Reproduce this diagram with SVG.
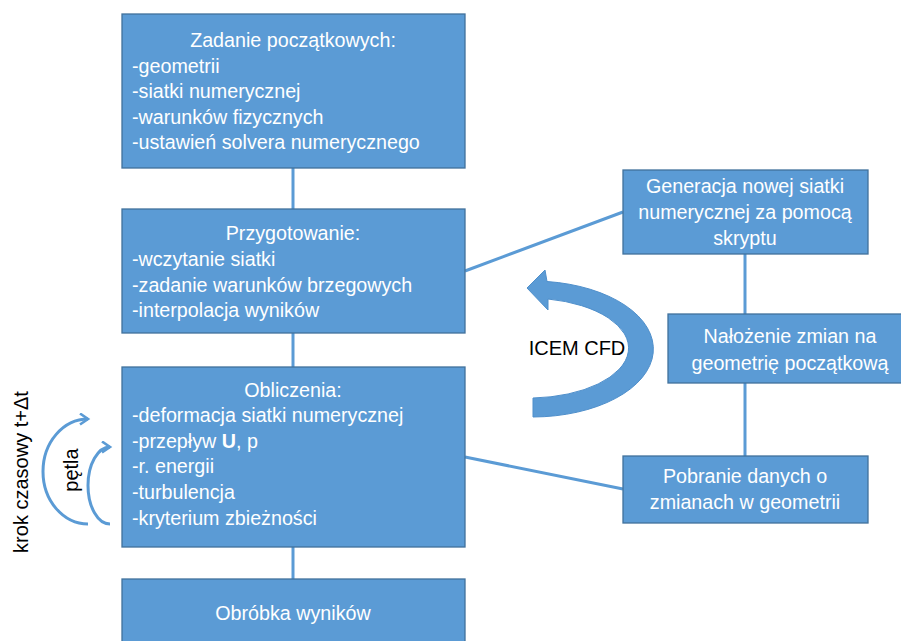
<svg xmlns="http://www.w3.org/2000/svg" width="901" height="641" viewBox="0 0 901 641">
<style>
.box{fill:#5B9BD5;stroke:#41719C;stroke-width:1.3}
.t{font-family:"Liberation Sans",Arial,sans-serif;font-size:19.7px;fill:#fff}
.c{text-anchor:middle}
.k{font-family:"Liberation Sans",Arial,sans-serif;font-size:20px;fill:#000}
.ln{stroke:#5B9BD5;stroke-width:3;fill:none}
</style>
<defs>
<marker id="ah" markerWidth="12" markerHeight="14" refX="9" refY="6" orient="auto" markerUnits="userSpaceOnUse">
<path d="M1,0.5 L9,6 L1,11.5" fill="none" stroke="#5B9BD5" stroke-width="2.6" stroke-linejoin="miter"/>
</marker>
</defs>
<rect width="901" height="641" fill="#fff"/>
<g id="connectors">
<line class="ln" x1="293" y1="168" x2="293" y2="209"/>
<line class="ln" x1="293" y1="333" x2="293" y2="367"/>
<line class="ln" x1="293" y1="547" x2="293" y2="579"/>
<line class="ln" x1="745" y1="254" x2="745" y2="314"/>
<line class="ln" x1="745" y1="383" x2="745" y2="456"/>
<line class="ln" x1="465" y1="271" x2="623" y2="212"/>
<line class="ln" x1="465" y1="457" x2="623" y2="489"/>
</g>
<g id="n1">
<rect class="box" x="122" y="14" width="343" height="154"/>
<text class="t c" x="293" y="47">Zadanie początkowych:</text>
<text class="t" x="132" y="72.5">-geometrii</text>
<text class="t" x="132" y="98">-siatki numerycznej</text>
<text class="t" x="132" y="123.5">-warunków fizycznych</text>
<text class="t" x="132" y="149">-ustawień solvera numerycznego</text>
</g>
<g id="n2">
<rect class="box" x="122" y="209" width="343" height="124"/>
<text class="t c" x="293" y="240">Przygotowanie:</text>
<text class="t" x="132" y="266">-wczytanie siatki</text>
<text class="t" x="132" y="292">-zadanie warunków brzegowych</text>
<text class="t" x="132" y="317">-interpolacja wyników</text>
</g>
<g id="n3">
<rect class="box" x="122" y="367" width="343" height="180"/>
<text class="t c" x="293" y="397">Obliczenia:</text>
<text class="t" x="132" y="422">-deformacja siatki numerycznej</text>
<text class="t" x="132" y="447.5">-przepływ <tspan font-weight="bold">U</tspan>, p</text>
<text class="t" x="132" y="473">-r. energii</text>
<text class="t" x="132" y="499">-turbulencja</text>
<text class="t" x="132" y="525">-kryterium zbieżności</text>
</g>
<g id="n4">
<rect class="box" x="122" y="579" width="343" height="70"/>
<text class="t c" x="293" y="620">Obróbka wyników</text>
</g>
<g id="n5">
<rect class="box" x="623" y="170" width="245" height="84"/>
<text class="t c" x="745" y="193">Generacja nowej siatki</text>
<text class="t c" x="745" y="219">numerycznej za pomocą</text>
<text class="t c" x="745" y="245">skryptu</text>
</g>
<g id="n6">
<rect class="box" x="668" y="314" width="245" height="69"/>
<text class="t c" x="790" y="343">Nałożenie zmian na</text>
<text class="t c" x="790" y="370">geometrię początkową</text>
</g>
<g id="n7">
<rect class="box" x="623" y="456" width="245" height="67"/>
<text class="t c" x="745" y="483">Pobranie danych o</text>
<text class="t c" x="745" y="509">zmianach w geometrii</text>
</g>
<g id="icem">
<path d="M533,417 A121,68 0 0 0 547,281.5 L545,270 L527,288 L548,310 L548,299 A100,50 0 0 1 533,398 Z" fill="#5B9BD5" stroke="#4F8FCB" stroke-width="1"/>
<text class="k c" x="577" y="355" font-size="17.2">ICEM CFD</text>
</g>
<g id="loops">
<path class="ln" d="M88,524 A45,52.5 0 1 1 88,419" marker-end="url(#ah)"/>
<path class="ln" d="M110,524 A22,38.5 0 1 1 110,447" marker-end="url(#ah)"/>
<text class="k c" transform="translate(78,470) rotate(-90)">pętla</text>
<text class="k c" transform="translate(28,472) rotate(-90)">krok czasowy t+Δt</text>
</g>
</svg>
